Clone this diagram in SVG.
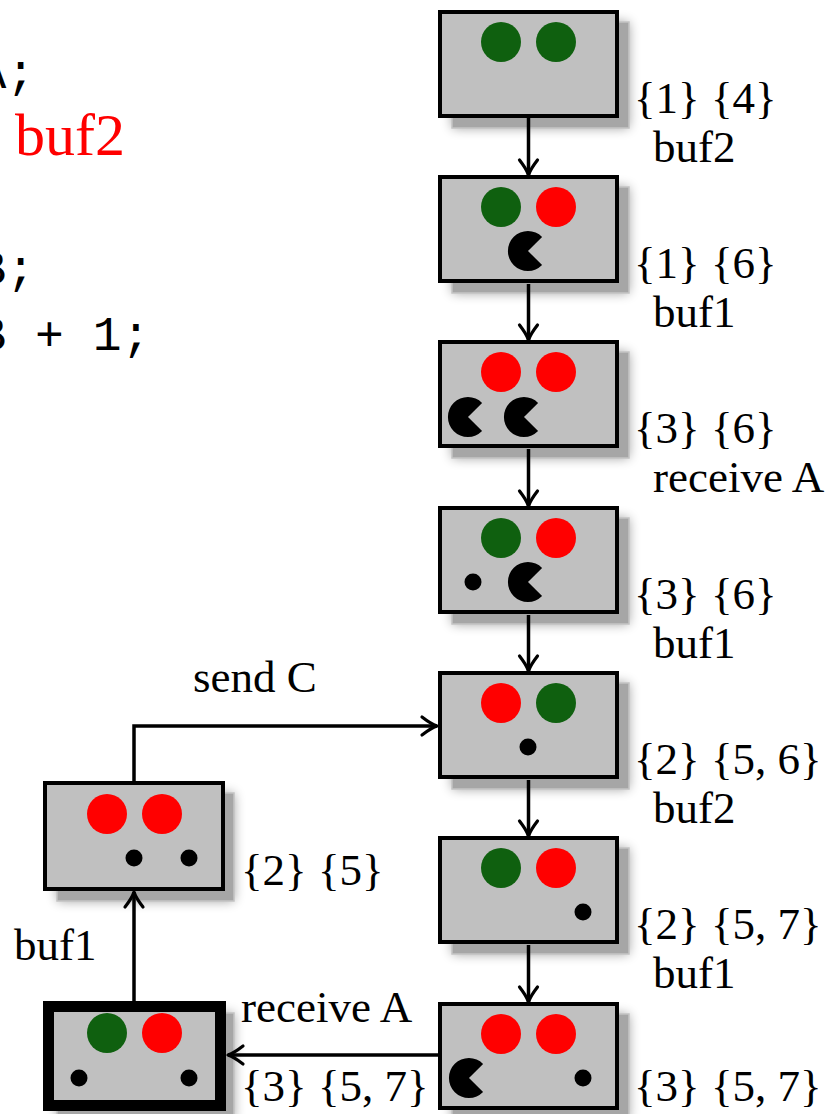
<svg xmlns="http://www.w3.org/2000/svg" xmlns:xlink="http://www.w3.org/1999/xlink" width="833" height="1114" viewBox="0 0 833 1114">
<style>
.box{fill:#c0c0c0;stroke:#000;stroke-width:4}
.thick{stroke-width:11}
.shb{fill:#000;opacity:.38}
.shr{fill:#a6a6a6;stroke:#c4c4c4;stroke-width:1.5}
.g{fill:#0f600f}
.r{fill:#ff0000}
.k{fill:#000}
.lbl{font-family:"Liberation Serif",serif;font-size:45px;fill:#000}
.code{font-family:"Liberation Mono",monospace;font-size:48px;fill:#000}
.red{font-family:"Liberation Serif",serif;font-size:60px;fill:#ff0000}
.con{fill:none;stroke:#000;stroke-width:3.5px;marker-end:url(#arr)}
</style>
<defs>
<filter id="blur" x="-30%" y="-30%" width="160%" height="160%"><feGaussianBlur stdDeviation="6"/></filter>
<marker id="arr" markerUnits="userSpaceOnUse" viewBox="-18 -11 20 22" markerWidth="20" markerHeight="22" refX="0" refY="0" orient="auto" overflow="visible">
<path d="M-15,-9 Q-6,-2 0,0 Q-6,2 -15,9" fill="none" stroke="#000" stroke-width="3.2" stroke-linecap="round" stroke-linejoin="round"/>
</marker>
<path id="pac" d="M0,0 L14.1,-14.1 A20,20 0 1,0 14.1,14.1 Z"/>
</defs>
<rect width="833" height="1114" fill="#fff"/>

<g id="code">
<text class="code" x="-22.5" y="88">A;</text>
<text class="red" x="15" y="155">buf2</text>
<text class="code" x="-22.5" y="284">B;</text>
<text class="code" x="-22.5" y="350">B + 1;</text>
</g>

<g id="n1">
<rect class="shb" x="452" y="22" width="177" height="106" filter="url(#blur)"/>
<rect class="shr" x="452" y="22" width="177" height="106"/>
<rect class="box" x="440" y="12" width="177" height="104"/>
<circle class="g" cx="501" cy="42" r="20"/><circle class="g" cx="556" cy="42" r="20"/>
<text class="lbl" x="634" y="113">{1} {4}</text>
<text class="lbl" x="653" y="162">buf2</text>
</g>

<g id="n2">
<rect class="shb" x="452" y="187" width="177" height="106" filter="url(#blur)"/>
<rect class="shr" x="452" y="187" width="177" height="106"/>
<rect class="box" x="440" y="177" width="177" height="104"/>
<circle class="g" cx="501" cy="207" r="20"/><circle class="r" cx="556" cy="207" r="20"/>
<use href="#pac" xlink:href="#pac" x="528" y="251"/>
<text class="lbl" x="634" y="278">{1} {6}</text>
<text class="lbl" x="653" y="327">buf1</text>
</g>

<g id="n3">
<rect class="shb" x="452" y="352" width="177" height="106" filter="url(#blur)"/>
<rect class="shr" x="452" y="352" width="177" height="106"/>
<rect class="box" x="440" y="342" width="177" height="104"/>
<circle class="r" cx="501" cy="372" r="20"/><circle class="r" cx="556" cy="372" r="20"/>
<use href="#pac" xlink:href="#pac" x="468" y="417"/>
<use href="#pac" xlink:href="#pac" x="524" y="417"/>
<text class="lbl" x="634" y="443">{3} {6}</text>
<text class="lbl" x="653" y="492">receive A</text>
</g>

<g id="n4">
<rect class="shb" x="452" y="518" width="177" height="106" filter="url(#blur)"/>
<rect class="shr" x="452" y="518" width="177" height="106"/>
<rect class="box" x="440" y="508" width="177" height="104"/>
<circle class="g" cx="501" cy="538" r="20"/><circle class="r" cx="556" cy="538" r="20"/>
<circle class="k" cx="473" cy="582" r="8.5"/>
<use href="#pac" xlink:href="#pac" x="528" y="582"/>
<text class="lbl" x="634" y="609">{3} {6}</text>
<text class="lbl" x="653" y="658">buf1</text>
</g>

<g id="n5">
<rect class="shb" x="452" y="683" width="177" height="106" filter="url(#blur)"/>
<rect class="shr" x="452" y="683" width="177" height="106"/>
<rect class="box" x="440" y="673" width="177" height="104"/>
<circle class="r" cx="501" cy="703" r="20"/><circle class="g" cx="556" cy="703" r="20"/>
<circle class="k" cx="528" cy="747" r="8.5"/>
<text class="lbl" x="634" y="774">{2} {5, 6}</text>
<text class="lbl" x="653" y="823">buf2</text>
</g>

<g id="n6">
<rect class="shb" x="452" y="848" width="177" height="106" filter="url(#blur)"/>
<rect class="shr" x="452" y="848" width="177" height="106"/>
<rect class="box" x="440" y="838" width="177" height="104"/>
<circle class="g" cx="501" cy="868" r="20"/><circle class="r" cx="556" cy="868" r="20"/>
<circle class="k" cx="583" cy="912" r="8.5"/>
<text class="lbl" x="634" y="939">{2} {5, 7}</text>
<text class="lbl" x="653" y="988">buf1</text>
</g>

<g id="n7">
<rect class="shb" x="452" y="1014" width="177" height="106" filter="url(#blur)"/>
<rect class="shr" x="452" y="1014" width="177" height="106"/>
<rect class="box" x="440" y="1004" width="177" height="104"/>
<circle class="r" cx="501" cy="1034" r="20"/><circle class="r" cx="556" cy="1034" r="20"/>
<use href="#pac" xlink:href="#pac" x="469" y="1078"/>
<circle class="k" cx="583" cy="1078" r="8.5"/>
<text class="lbl" x="634" y="1101">{3} {5, 7}</text>
</g>

<g id="n8">
<rect class="shb" x="57" y="793" width="177" height="108" filter="url(#blur)"/>
<rect class="shr" x="57" y="793" width="177" height="108"/>
<rect class="box" x="45" y="783" width="178" height="106"/>
<circle class="r" cx="107" cy="814" r="20"/><circle class="r" cx="162" cy="814" r="20"/>
<circle class="k" cx="134" cy="858" r="8.5"/><circle class="k" cx="189" cy="858" r="8.5"/>
<text class="lbl" x="241" y="885">{2} {5}</text>
</g>

<g id="n9">
<rect class="shb" x="57" y="1013" width="177" height="108" filter="url(#blur)"/>
<rect class="shr" x="57" y="1013" width="177" height="108"/>
<rect class="box thick" x="48.5" y="1006.5" width="172" height="99"/>
<circle class="r" cx="162" cy="1033" r="20"/><circle class="g" cx="107" cy="1033" r="20"/>
<circle class="k" cx="79" cy="1078" r="8.5"/><circle class="k" cx="189" cy="1078" r="8.5"/>
</g>

<g id="connectors">
<path class="con" stroke-width="3.5" d="M528.5,118 V175"/>
<path class="con" stroke-width="3.5" d="M528.5,284 V340"/>
<path class="con" stroke-width="3.5" d="M528.5,449 V506"/>
<path class="con" stroke-width="3.5" d="M528.5,615 V671"/>
<path class="con" stroke-width="3.5" d="M528.5,780 V836"/>
<path class="con" stroke-width="3.5" d="M528.5,945 V1002"/>
<path class="con" stroke-width="3.5" d="M134,781 V726 H437"/>
<path class="con" stroke-width="3.5" d="M134,1001 V892"/>
<path class="con" stroke-width="3.5" d="M438,1055 H228"/>
<text class="lbl" x="193" y="692">send C</text>
<text class="lbl" x="14" y="960">buf1</text>
<text class="lbl" x="241" y="1022">receive A</text>
<text class="lbl" x="241" y="1101">{3} {5, 7}</text>
</g>
</svg>
